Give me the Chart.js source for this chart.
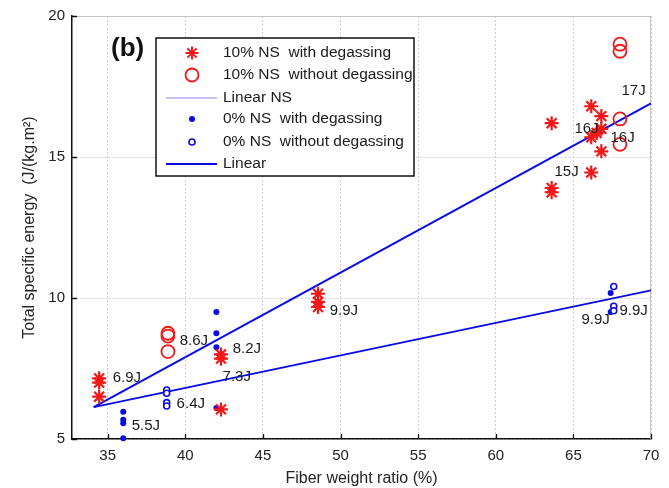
<!DOCTYPE html>
<html>
<head>
<meta charset="utf-8">
<script src="https://cdn.jsdelivr.net/npm/chart.js@4"></script>
<style>
  html, body { margin: 0; padding: 0; background: #fff; }
  #wrap { width: 669px; height: 488px; }
</style>
</head>
<body>
<div id="wrap"><canvas id="chart" width="669" height="488"></canvas></div>
<script>
// -----------------------------
// Data
// -----------------------------
const xTicks = [35, 40, 45, 50, 55, 60, 65, 70];
const yTicks = [5, 10, 15, 20];

// 10% NS with degassing (asterisks)
const nsDegasX = [34.45, 34.45, 34.45, 42.3, 42.3, 42.3, 48.55, 48.55, 48.55, 63.6, 63.6, 63.6, 66.15, 66.8, 66.8, 66.15, 66.5, 66.8, 66.15];
const nsDegasY = [7.15, 7.0, 6.5, 8.0, 7.85, 6.05, 10.15, 9.86, 9.68, 16.2, 13.9, 13.75, 16.8, 16.45, 16.0, 15.7, 15.85, 15.2, 14.45];

// 10% NS without degassing (big open circles)
const nsNoDegasX = [38.88, 38.88, 38.88, 68.0, 68.0, 68.0, 68.0];
const nsNoDegasY = [8.75, 8.65, 8.1, 19.0, 18.75, 16.35, 15.45];

// 0% NS with degassing (dots)
const plainDegasX = [36, 36, 36, 36, 42, 42, 42, 42, 67.4, 67.4];
const plainDegasY = [5.97, 5.68, 5.56, 5.03, 9.5, 8.75, 8.25, 6.1, 10.18, 9.5];

// 0% NS without degassing (small open circles)
const plainNoDegasX = [38.8, 38.8, 38.8, 38.8, 67.6, 67.6, 67.6];
const plainNoDegasY = [6.74, 6.62, 6.29, 6.17, 10.41, 9.71, 9.55];

// linear fits
const fitX = [34.1, 70];
const fitNsY = [6.13, 16.9];
const fitPlainY = [6.13, 10.27];

// energy labels
const noteText = ['6.9J', '8.6J', '8.2J', '7.3J', '6.4J', '5.5J', '9.9J', '15J', '16J', '16J', '17J', '9.9J', '9.9J'];
const noteX = [35.32, 39.64, 43.05, 42.4, 39.44, 36.55, 49.3, 63.78, 65.07, 67.39, 68.1, 65.52, 67.97];
const noteY = [7.16, 8.47, 8.19, 7.19, 6.24, 5.46, 9.53, 14.48, 16.0, 15.68, 17.35, 9.21, 9.53];

const legendLabels = ['10% NS  with degassing', '10% NS  without degassing', 'Linear NS', '0% NS  with degassing', '0% NS  without degassing', 'Linear'];

const RED = '#f21818';
const BLUE = '#0a0ae6';
const FONT = '"Liberation Sans", Arial, sans-serif';

const pts = (xs, ys) => xs.map((v, i) => ({ x: v, y: ys[i] }));

// -----------------------------
// Small marker helpers
// -----------------------------
function asterisk(ctx, cx, cy, r) {
    ctx.beginPath();
    for (let k = 0; k < 4; k++) {
        const a = k * Math.PI / 4;
        ctx.moveTo(cx - r * Math.cos(a), cy - r * Math.sin(a));
        ctx.lineTo(cx + r * Math.cos(a), cy + r * Math.sin(a));
    }
    ctx.stroke();
}

function circle(ctx, cx, cy, r, fill) {
    ctx.beginPath();
    ctx.arc(cx, cy, r, 0, Math.PI * 2);
    if (fill) ctx.fill(); else ctx.stroke();
}

// -----------------------------
// Overlay: frame, ticks, labels, legend
// -----------------------------
const overlay = {
    id: 'overlay',
    beforeDatasetsDraw(chart) {
        const { ctx, chartArea: a, scales: { x, y } } = chart;
        ctx.save();
        ctx.strokeStyle = '#c4c4c4';
        ctx.lineWidth = 1;
        ctx.beginPath();
        ctx.moveTo(a.left, a.top + 0.5);
        ctx.lineTo(a.right - 0.5, a.top + 0.5);
        ctx.lineTo(a.right - 0.5, a.bottom);
        ctx.stroke();

        // inward tick marks
        ctx.strokeStyle = '#111';
        ctx.lineWidth = 1.3;
        ctx.beginPath();
        xTicks.forEach(v => {
            const px = Math.round(x.getPixelForValue(v)) + 0.5;
            ctx.moveTo(px, a.bottom);
            ctx.lineTo(px, a.bottom - 5);
        });
        yTicks.forEach(v => {
            const py = Math.round(y.getPixelForValue(v)) + 0.5;
            ctx.moveTo(a.left, py);
            ctx.lineTo(a.left + 5, py);
        });
        ctx.stroke();
        ctx.restore();
    },
    afterDraw(chart) {
        const { ctx, scales: { x, y } } = chart;
        ctx.save();

        // energy labels
        ctx.fillStyle = '#1a1a1a';
        ctx.font = '15px ' + FONT;
        ctx.textBaseline = 'middle';
        ctx.textAlign = 'left';
        noteText.forEach((t, i) => {
            ctx.fillText(t, x.getPixelForValue(noteX[i]), y.getPixelForValue(noteY[i]));
        });

        // legend box
        const bx = 156, by = 38, bw = 258, bh = 138;
        ctx.fillStyle = '#fff';
        ctx.fillRect(bx, by, bw, bh);
        ctx.strokeStyle = '#111';
        ctx.lineWidth = 1.5;
        ctx.strokeRect(bx, by, bw, bh);

        const rowY = [53, 75, 98, 119, 142, 164];
        const symX = 192;
        legendLabels.forEach((label, i) => {
            const ry = rowY[i];
            if (i === 0) {
                ctx.strokeStyle = RED; ctx.lineWidth = 2;
                asterisk(ctx, symX, ry, 6.5);
            } else if (i === 1) {
                ctx.strokeStyle = RED; ctx.lineWidth = 1.8;
                circle(ctx, symX, ry, 6.5, false);
            } else if (i === 2 || i === 5) {
                ctx.strokeStyle = i === 2 ? '#8a8af5' : BLUE;
                ctx.lineWidth = i === 2 ? 1 : 2;
                ctx.beginPath();
                ctx.moveTo(166, ry);
                ctx.lineTo(217, ry);
                ctx.stroke();
            } else if (i === 3) {
                ctx.fillStyle = BLUE;
                circle(ctx, symX, ry, 3, true);
            } else {
                ctx.strokeStyle = BLUE; ctx.lineWidth = 1.6;
                circle(ctx, symX, ry, 3, false);
            }
            ctx.fillStyle = '#1a1a1a';
            ctx.font = '15.5px ' + FONT;
            ctx.fillText(label, 223, ry);
        });

        // panel tag
        ctx.font = 'bold 26px ' + FONT;
        ctx.fillStyle = '#111';
        ctx.fillText('(b)', 111, 49);
        ctx.restore();
    }
};

// -----------------------------
// Chart
// -----------------------------
Chart.defaults.font.family = FONT;
Chart.defaults.font.size = 15;
Chart.defaults.color = '#222';

const gridOpts = { color: '#cdcdcd', lineWidth: 1, drawTicks: false };

new Chart(document.getElementById('chart'), {
    type: 'scatter',
    data: {
        datasets: [
            {
                label: 'Linear NS', data: pts(fitX, fitNsY), showLine: true,
                borderColor: BLUE, borderWidth: 2, pointRadius: 0, order: 5
            },
            {
                label: 'Linear', data: pts(fitX, fitPlainY), showLine: true,
                borderColor: BLUE, borderWidth: 2, pointRadius: 0, order: 5
            },
            {
                label: '0% NS with degassing', data: pts(plainDegasX, plainDegasY),
                pointStyle: 'circle', pointRadius: 3, backgroundColor: BLUE, borderColor: BLUE, borderWidth: 0, order: 4
            },
            {
                label: '0% NS without degassing', data: pts(plainNoDegasX, plainNoDegasY),
                pointStyle: 'circle', pointRadius: 3, backgroundColor: '#fff', borderColor: BLUE, borderWidth: 1.6, order: 3
            },
            {
                label: '10% NS without degassing', data: pts(nsNoDegasX, nsNoDegasY),
                pointStyle: 'circle', pointRadius: 6.5, backgroundColor: 'rgba(0,0,0,0)', borderColor: RED, borderWidth: 1.8, order: 2
            },
            {
                label: '10% NS with degassing', data: pts(nsDegasX, nsDegasY),
                pointStyle: 'star', pointRadius: 7, borderColor: RED, backgroundColor: RED, borderWidth: 2.2, order: 1
            }
        ]
    },
    options: {
        responsive: false,
        animation: false,
        clip: false,
        layout: { padding: { top: 15, right: 18, left: 0, bottom: 0 } },
        plugins: { legend: { display: false }, tooltip: { enabled: false } },
        scales: {
            x: {
                type: 'linear', min: 32.7, max: 70,
                afterBuildTicks: s => { s.ticks = xTicks.map(v => ({ value: v })); },
                afterFit: s => { s.height = 49; },
                grid: gridOpts,
                border: { color: '#111', width: 1.5, dash: [2, 2] },
                ticks: { padding: 8, color: '#222', font: { size: 15 } },
                title: { display: true, text: 'Fiber weight ratio (%)', color: '#222', font: { size: 16 }, padding: { top: 0, bottom: 0 } }
            },
            y: {
                type: 'linear', min: 5, max: 20,
                afterBuildTicks: s => { s.ticks = yTicks.map(v => ({ value: v })); },
                afterFit: s => { s.width = 72; },
                grid: gridOpts,
                border: { color: '#111', width: 1.5, dash: [2, 2] },
                ticks: { padding: 7, color: '#222', font: { size: 15 } },
                title: { display: true, text: 'Total specific energy  (J/(kg.m²)', color: '#222', font: { size: 16 }, padding: { top: 20, bottom: 0 } }
            }
        }
    },
    plugins: [overlay]
});
</script>
</body>
</html>
